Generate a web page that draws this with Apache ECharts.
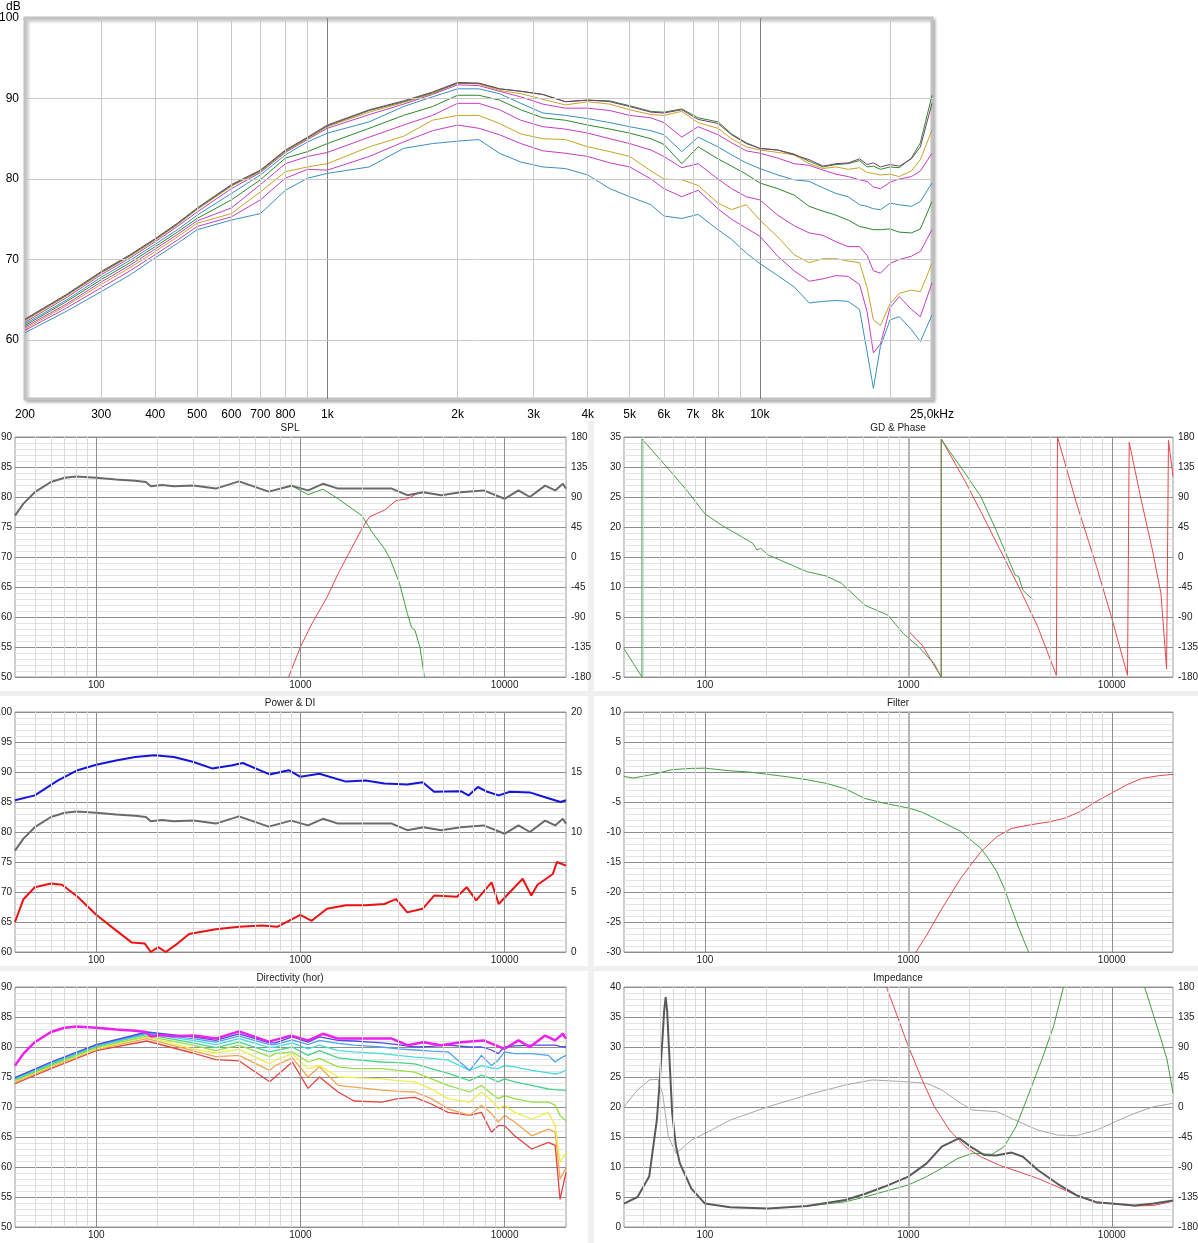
<!DOCTYPE html>
<html><head><meta charset="utf-8">
<script src="https://cdn.jsdelivr.net/npm/echarts@6/dist/echarts.min.js"></script>
<style>html,body{margin:0;padding:0;background:#fff}#c{width:1198px;height:1243px}</style>
</head><body><div id="c"></div>
<script>
// ---------- TOP CHART (off-axis responses) ----------
const TOP_FREQ = [200,250,300,350,400,450,500,600,700,800,900,1000,1250,1500,1750,2000,2240,2500,2800,3150,3550,4000,4500,5000,5600,6000,6600,7200,8000,8600,9300,10000,11000,12000,13000,14000,15000,16000,17000,17700,18300,19000,20000,21000,22400,23500,25000];
const TOP_A = [62.6,65.7,68.5,70.6,72.6,74.5,76.4,79.3,81.1,83.6,85.2,86.7,88.6,89.7,90.8,92.0,91.9,91.2,90.9,90.5,89.6,89.8,89.6,89.0,88.3,88.2,88.6,87.4,86.9,85.5,84.4,83.8,83.6,83.0,82.4,81.6,81.9,82.0,82.5,81.8,82.0,81.5,81.8,81.6,82.5,84.0,89.4];
const TOP_B = [62.5,65.6,68.4,70.5,72.5,74.4,76.3,79.2,81.0,83.5,85.1,86.6,88.5,89.6,90.7,91.9,91.9,91.2,90.9,90.5,89.6,89.8,89.7,89.1,88.4,88.3,88.7,87.6,87.1,85.6,84.5,83.8,83.6,83.1,82.2,81.5,81.8,81.9,82.3,81.5,81.6,81.2,81.5,81.4,82.6,84.5,90.4];
const TOP_C = [62.4,65.5,68.3,70.4,72.4,74.3,76.2,79.1,80.9,83.4,85.0,86.5,88.3,89.5,90.6,91.9,91.8,91.0,90.6,89.9,89.2,89.6,89.3,88.6,88.0,87.9,88.4,87.0,86.3,85.0,84.0,83.6,83.3,83.0,81.9,81.3,81.5,81.2,81.4,80.8,80.7,80.5,80.6,80.3,81.0,82.4,86.1];
const TOP_D = [62.2,65.3,68.1,70.2,72.2,74.1,75.9,78.8,80.8,83.3,84.9,86.3,88.0,89.3,90.5,91.7,91.6,90.9,90.2,89.3,88.8,88.8,88.5,87.9,87.6,87.0,85.2,86.5,85.5,84.5,83.5,83.2,82.6,81.9,81.7,81.1,80.6,80.3,79.9,79.7,79.0,78.8,79.6,80.0,80.3,81.0,83.2];
const TOP_E = [62.0,65.0,67.8,69.9,71.9,73.7,75.5,78.2,80.5,83.0,84.6,85.7,87.1,89.0,90.2,91.2,91.2,90.6,89.4,88.2,87.9,87.5,87.0,86.5,86.0,85.5,83.4,85.2,84.0,83.0,82.0,81.3,80.5,79.9,79.7,78.9,78.2,77.8,76.8,76.6,76.3,76.2,77.0,76.8,76.6,77.2,79.5];
const TOP_F = [61.8,64.8,67.5,69.6,71.6,73.4,75.1,77.4,79.9,82.6,83.4,84.4,86.3,87.9,89.0,90.4,90.4,89.8,88.6,87.6,87.3,86.7,86.2,85.7,85.0,84.3,81.9,84.0,82.5,81.6,80.6,79.5,78.8,78.0,76.6,76.0,75.5,74.9,74.1,73.9,73.7,73.7,73.8,73.4,73.3,73.8,77.2];
const TOP_G = [61.6,64.5,67.2,69.3,71.3,73.1,74.8,76.4,79.3,81.9,82.8,83.3,85.2,86.7,87.9,89.4,89.4,88.6,87.3,86.5,86.2,85.7,85.0,84.4,83.6,82.8,81.4,81.9,80.0,78.8,77.8,77.4,75.5,74.2,73.3,73.0,72.2,71.6,71.6,70.5,68.6,68.3,69.5,70.0,70.4,71.0,73.7];
const TOP_H = [61.4,64.3,66.9,69.0,71.0,72.8,74.5,75.7,78.4,80.9,81.5,81.9,84.0,85.3,87.3,87.9,87.9,86.9,85.6,85.0,84.9,84.0,83.4,82.8,81.0,80.0,79.9,79.2,77.0,76.2,76.8,74.9,72.8,70.6,69.6,70.1,70.1,69.8,69.6,66.5,62.5,61.8,64.5,65.8,66.2,66.0,69.5];
const TOP_I = [61.2,64.0,66.5,68.6,70.6,72.4,74.1,75.3,77.4,80.1,81.2,81.1,82.8,84.6,86.0,86.7,86.3,85.5,84.4,83.5,83.2,82.8,82.0,81.5,80.0,78.8,77.8,78.6,76.3,75.0,73.9,72.9,70.4,68.6,67.3,67.6,68.0,67.9,66.9,63.5,58.4,59.5,64.0,65.4,63.8,62.9,67.1];
const TOP_J = [60.9,63.6,66.0,68.1,70.2,72.0,73.7,74.9,75.7,78.6,80.1,80.7,81.5,83.8,84.4,84.7,84.9,83.2,82.1,81.5,81.3,80.5,78.8,77.8,76.8,75.4,75.1,75.6,73.7,72.5,70.8,69.5,68.0,66.6,64.6,64.8,64.9,64.8,63.8,58.5,54.0,59.2,62.5,62.9,61.3,59.8,63.1];
const TOP_TICK_VALUES = [200,300,400,500,600,700,800,1000,2000,3000,4000,5000,6000,7000,8000,10000,25000];
const TOP_TICK_LABELS = ['200','300','400','500','600','700','800','1k','2k','3k','4k','5k','6k','7k','8k','10k','25,0kHz'];
const TOP_MINOR_X = [300,400,500,600,700,800,900,2000,3000,4000,5000,6000,7000,8000,9000,20000];
const TOP_MAJOR_X = [1000,10000];
const TOP_Y_TICKS = [60,70,80,90,100];

// ---------- on-axis SPL (shared by SPL, Power & DI, Directivity) ----------
const ON_FREQ = [40,44,50,60,70,80,100,125,155,175,185,210,240,300,385,500,700,900,1090,1290,1530,2100,2800,3340,4000,4900,6100,7900,10000,11700,13300,15800,17700,19300,20000];
const ON_SPL  = [76.9,78.9,80.8,82.5,83.2,83.4,83.2,82.9,82.7,82.5,81.8,82.0,81.8,81.9,81.4,82.6,80.9,81.9,81.1,82.2,81.4,81.4,81.4,80.3,80.8,80.3,80.8,81.1,79.7,81.1,80.0,81.9,81.1,82.2,81.4];

// SPL panel: woofer and tweeter
const WOOF_FREQ = [700,913,1090,1290,1530,2000,2270,2580,2750,3060,3340,3500,3640,3850,4050];
const WOOF_SPL  = [80.9,81.8,80.4,81.3,79.7,76.9,73.9,71.4,69.7,65.6,60.6,58.3,57.8,55.0,50.0];
const TW_FREQ = [875,1000,1140,1350,1530,1740,2000,2180,2580,2940,3340,3800,4150];
const TW_SPL  = [50.0,55.0,58.9,63.3,67.2,70.8,74.7,76.7,77.8,79.4,79.7,80.7,80.8];

// GD & Phase panel
const WOOF_PH_FREQ = [40,49,49.01,55.5,69,82.2,100,121.7,151,172,180,188,205,255,318,396,470,610,794,945,1125,1340,1450,1451,1595,1900,2270,2720,3070,3350,3490,3650,4080];
const WOOF_PH = [-137.4,-180,177,158.4,125.8,98.3,64.7,47.1,30.6,20.6,10.5,13,3,-9.5,-22.1,-28.6,-39.6,-72.2,-87.3,-114.8,-134.9,-160,-180,177,158.4,125.8,90.8,38.1,0,-27.1,-29.6,-49.6,-63.7];
const TW_PH_FREQ = [1000,1170,1450,1451,1900,2270,2800,3490,4330,5340,5410,6670,8420,9960,11950,12180,13950,15840,17450,18600,19000,20000];
const TW_PH = [-110.8,-132.4,-180,177,113.8,68.2,13,-44.6,-104.8,-177.5,180,83.2,-14.5,-89.8,-177.5,172,85.7,10.5,-54.7,-167.5,175,120.8];

// Power & DI panel
const PWR_FREQ = [40,50,65,81,100,125,155,193,240,297,369,458,522,707,876,1000,1240,1670,2085,2580,3340,3970,4520,6110,6660,7400,8240,9360,10640,13300,15800,18800,20000];
const PWR = [85.3,86.1,88.6,90.3,91.2,91.9,92.5,92.8,92.5,91.7,90.6,91.1,91.5,89.6,90.3,89.2,89.7,88.4,88.6,88.1,87.9,88.3,86.7,86.8,86.1,87.5,86.7,86.1,86.7,86.6,85.8,85.0,85.3];
const DI_FREQ = [40,44,50,60,68,81,100,125,149,173,185,201,219,250,285,385,500,649,770,1000,1135,1350,1670,2085,2580,2940,3340,3970,4520,5850,6520,7260,8640,9360,10640,12270,13520,14510,17240,18060,20000];
const DI = [2.5,4.4,5.4,5.7,5.6,4.6,3.1,1.8,0.8,0.7,0.0,0.4,0.0,0.7,1.5,1.9,2.1,2.2,2.1,3.1,2.6,3.6,3.9,3.9,4.0,4.4,3.3,3.6,4.7,4.6,5.4,4.3,5.8,4.0,5.0,6.1,4.7,5.6,6.5,7.5,7.2];

// Filter panel
const FIL_W_FREQ = [40,44.6,55.5,69,86,100,133,165,205,255,318,396,490,610,760,1000,1170,1460,1810,2070,2270,2470,2720,2960,3220,3500,3900];
const FIL_W = [-0.75,-1.0,-0.4,0.4,0.6,0.64,0.2,0.0,-0.4,-0.8,-1.3,-1.9,-2.8,-4.4,-5.2,-6.0,-6.7,-8.3,-9.9,-11.6,-12.7,-14.4,-16.6,-19.4,-22.8,-26.1,-30];
const FIL_T_FREQ = [1090,1230,1460,1810,2270,2720,3220,3980,4940,5870,6990,8400,10000,11900,14000,17100,20000];
const FIL_T = [-30,-27.2,-22.8,-17.7,-13.3,-10.8,-9.4,-8.8,-8.3,-7.7,-6.6,-4.9,-3.5,-2.1,-1.1,-0.6,-0.4];

// Directivity (hor) panel
const DIR_FREQ = [40,60,100,177,297,385,500,707,753,913,1090,1240,1530,1830,2500,3000,3630,4380,5290,6750,7710,8630,9310,10000,11200,13600,16400,17700,18700,20000];
const DIR_10 = [74.9,77.5,80.4,82.5,81.7,81.1,82.2,80.7,80.7,81.7,80.8,81.7,81.1,81.0,80.7,80.4,80.0,80.1,80.3,80.0,80.0,79.5,78.9,80.0,80.2,80.3,80.3,80.3,80.1,80.0];
const DIR_20 = [74.8,77.4,80.3,82.3,81.4,80.8,81.8,80.4,80.4,81.2,80.4,81.1,80.6,80.3,80.0,79.7,79.5,79.3,79.2,76.1,78.6,76.9,77.8,79.2,78.9,78.9,78.6,77.5,78.1,78.6];
const DIR_30 = [74.7,77.3,80.2,82.2,81.1,80.4,81.4,79.9,80.0,80.7,79.7,80.3,79.4,79.2,78.9,78.6,78.3,78.1,77.8,76.1,76.9,76.5,76.4,76.9,76.7,76.1,75.7,75.5,75.7,76.1];
const DIR_40 = [74.6,77.1,80.1,82.1,80.7,79.9,80.8,79.2,79.4,80.0,78.6,79.4,78.2,77.9,77.5,77.4,77.2,76.4,75.6,74.4,75.3,74.7,74.2,74.7,74.2,73.6,73.0,72.9,72.8,72.8];
const DIR_50 = [74.4,76.9,79.9,81.8,80.3,79.4,80.3,78.4,78.9,79.2,77.5,78.1,76.7,76.4,76.4,76.1,75.8,74.7,73.6,72.5,73.6,72.2,71.4,71.9,71.4,70.8,70.8,70.3,68.6,67.7];
const DIR_60 = [74.3,76.8,79.7,81.7,79.7,79.0,79.6,77.2,77.8,78.9,76.4,76.9,75.0,74.9,74.7,74.4,74.2,73.0,71.4,70.8,72.5,71.1,69.7,70.3,69.1,68.0,69.1,66.9,60.8,62.4];
const DIR_70 = [74.1,76.6,79.6,81.4,79.4,78.4,78.6,76.1,76.9,78.2,75.0,76.7,73.6,73.3,72.8,72.6,72.5,71.4,69.7,68.6,70.3,68.9,67.5,68.6,67.5,65.2,66.3,65.8,58.0,59.9];
const DIR_80 = [73.9,76.4,79.4,81.0,79.0,77.9,77.7,74.2,75.0,77.5,73.1,75.0,72.5,71.0,70.8,71.4,71.6,70.5,69.1,68.6,69.1,65.8,66.9,66.9,65.2,63.0,64.1,63.6,54.6,59.1];

// Impedance panel
const IMP_FREQ = [40,46.6,53.2,58,60,62,63,64.1,65.2,66.5,69,72,75.3,85.8,100,133,205,318,490,610,760,1000,1230,1460,1780,2020,2360,2690,3220,3660,4330,5410,6690,8420,10000,12940,16100,20000];
const IMP_TOTAL = [3.9,5.0,8.4,17.8,24.5,32.0,36.0,38.3,36.0,30.0,19.0,13.5,10.6,6.4,3.9,3.3,3.1,3.5,4.5,5.5,6.7,8.4,10.6,13.4,14.8,13.4,12.0,11.9,12.4,11.7,9.5,7.2,5.3,4.1,3.9,3.6,3.9,4.4];
const IMP_PH_FREQ = [40,46.6,53.2,58.8,61.9,66.1,72.1,85.8,100,133,205,318,490,665,945,1230,1460,1810,2070,2720,3490,4330,5410,6690,8420,10400,12940,16100,20000];
const IMP_PH = [0.5,25.6,40.6,41.6,20.6,-44.6,-69.7,-49.6,-39.6,-19.6,0.5,18.0,33.1,40.6,38.1,35.6,25.6,5.5,-4.5,-7.0,-22.1,-34.6,-42.1,-43.1,-34.6,-22.1,-9.5,0.5,5.5];
const WOOF_IMP_FREQ = [318,490,610,760,1000,1230,1460,1740,2070,2580,2960,3380,3810,4530,5170,5790];
const WOOF_IMP = [3.5,4.2,5.0,5.9,7.0,8.4,9.8,11.4,12.3,12.1,13.4,16.7,21.2,27.9,33.4,40];
const WOOF_IMP2_FREQ = [14500,17100,18700,20000];
const WOOF_IMP2 = [40,32.3,27.9,22.3];
const TW_IMP_FREQ = [780,870,1000,1170,1340,1590,1900,2270,2800,3490,4330,5410,6690,8420,10000,12940,16100,20000];
const TW_IMP = [40,35.7,30.1,24.5,20.1,16.2,13.4,11.7,10.3,9.2,8.1,6.7,5.3,4.2,3.9,3.5,3.6,4.3];

// small-panel frequency grid
const SMALL_MINOR_X = [50,60,70,80,90,200,300,400,500,600,700,800,900,2000,3000,4000,5000,6000,7000,8000,9000];
const SMALL_MAJOR_X = [100,1000,10000];

// ---------- styles ----------
const FONT = '"Liberation Sans", Arial, sans-serif';
const TOP_COLORS = ['#7d3a6e','#2a8a2a','#c9a227','#c43cc4','#3a8fc0','#2a8a2a','#c43cc4','#c9a227','#c43cc4','#3a8fc0'];
const DIR_COLORS = ['#4c4ce6','#4fa2ee','#45dcdc','#45d48a','#96e045','#eeee45','#f2a650','#e04545'];

const zip = (f, v) => f.map((x, i) => [x, v[i]]);

const chart = echarts.init(document.getElementById('c'), null, {renderer: 'canvas'});

const smallGridBase = {show: true, backgroundColor: '#fff', borderColor: '#9a9a9a', borderWidth: 1, containLabel: false, outerBoundsMode: 'none'};
const grids = [
  {left: 25, top: 18, width: 907, height: 381, show: true, backgroundColor: '#fff', borderColor: '#c2c2c2', borderWidth: 3,
   shadowColor: 'rgba(0,0,0,0.25)', shadowBlur: 3, shadowOffsetX: 2, shadowOffsetY: 2, containLabel: false, outerBoundsMode: 'none'},
  Object.assign({left: 15, top: 437, width: 551, height: 240}, smallGridBase),
  Object.assign({left: 624, top: 437, width: 549, height: 240}, smallGridBase),
  Object.assign({left: 15, top: 712, width: 551, height: 240}, smallGridBase),
  Object.assign({left: 624, top: 712, width: 549, height: 240}, smallGridBase),
  Object.assign({left: 15, top: 987, width: 551, height: 240}, smallGridBase),
  Object.assign({left: 624, top: 987, width: 549, height: 240}, smallGridBase)
];

const xAxes = grids.map((g, i) => ({
  type: 'log', logBase: 10, gridIndex: i,
  min: i === 0 ? 200 : 40, max: i === 0 ? 25000 : 20000,
  axisLine: {show: false}, axisTick: {show: false}, axisLabel: {show: false}, splitLine: {show: false}
}));

function yLeft(grid, min, max) {
  return {type: 'value', gridIndex: grid, min: min, max: max, interval: 5,
    axisLine: {show: false}, axisTick: {show: false},
    axisLabel: {color: '#222', fontSize: 10, fontFamily: FONT, margin: 3},
    splitLine: {show: true, lineStyle: {color: '#8e8e8e', width: 1}},
    minorTick: {show: false, splitNumber: 5},
    minorSplitLine: {show: true, lineStyle: {color: '#e3e3e3', width: 1}}};
}
function yRight(grid, min, max, interval) {
  return {type: 'value', gridIndex: grid, position: 'right', min: min, max: max, interval: interval,
    axisLine: {show: false}, axisTick: {show: false},
    axisLabel: {color: '#222', fontSize: 10, fontFamily: FONT, margin: 5},
    splitLine: {show: false}};
}
const yAxes = [
  {type: 'value', gridIndex: 0, min: 52.67, max: 100, axisLine: {show: false}, axisTick: {show: false}, axisLabel: {show: false}, splitLine: {show: false}},
  yLeft(1, 50, 90), yRight(1, -180, 180, 45),
  yLeft(2, -5, 35), yRight(2, -180, 180, 45),
  yLeft(3, 60, 100), yRight(3, 0, 20, 5),
  yLeft(4, -30, 10),
  yLeft(5, 50, 90),
  yLeft(6, 0, 40), yRight(6, -180, 180, 45)
];
// y axis index of the left axis per grid
const LEFT_Y = [0, 1, 3, 5, 7, 8, 9];

function gridLines(gi, items) {
  return {type: 'line', xAxisIndex: gi, yAxisIndex: LEFT_Y[gi], data: [], z: 1, silent: true,
    markLine: {silent: true, symbol: ['none', 'none'], animation: false, precision: 6,
      label: {show: false}, emphasis: {disabled: true}, data: items}};
}

const series = [];

// top chart gridlines and tick labels
const topLineItems = [];
TOP_MINOR_X.forEach(v => topLineItems.push({xAxis: v, lineStyle: {color: '#c9c9c9', width: 1, type: 'solid'}}));
TOP_MAJOR_X.forEach(v => topLineItems.push({xAxis: v, lineStyle: {color: '#808080', width: 1, type: 'solid'}}));
TOP_TICK_VALUES.forEach((v, i) => topLineItems.push({xAxis: v, lineStyle: {color: 'rgba(255,255,255,0)', width: 1, type: 'solid'},
  label: {show: true, position: 'start', formatter: TOP_TICK_LABELS[i], color: '#000', fontSize: 12, fontFamily: FONT, distance: 10}}));
TOP_Y_TICKS.forEach(v => topLineItems.push({yAxis: v, lineStyle: {color: v === 100 ? 'rgba(255,255,255,0)' : '#c9c9c9', width: 1, type: 'solid'},
  label: {show: true, position: 'start', formatter: String(v), color: '#000', fontSize: 12, fontFamily: FONT, distance: 6}}));
series.push(gridLines(0, topLineItems));

const TOP_SERIES = [TOP_A, TOP_B, TOP_C, TOP_D, TOP_E, TOP_F, TOP_G, TOP_H, TOP_I, TOP_J];
function line(gi, yi, data, color, width, z) {
  return {type: 'line', xAxisIndex: gi, yAxisIndex: yi, data: data, showSymbol: false, symbol: 'none',
    silent: true, animation: false, z: z || 3, lineStyle: {color: color, width: width}, emphasis: {disabled: true}};
}
for (let k = TOP_SERIES.length - 1; k >= 0; k--) {
  series.push(line(0, 0, zip(TOP_FREQ, TOP_SERIES[k]), TOP_COLORS[k], 1, 3));
}

// small-panel vertical gridlines
for (let gi = 1; gi <= 6; gi++) {
  const right = gi % 2 === 0;
  const items = [];
  SMALL_MINOR_X.forEach(v => items.push({xAxis: v, lineStyle: {color: '#dadada', width: 1, type: 'solid'}}));
  SMALL_MAJOR_X.forEach(v => {
    const thick = right && v === 1000;
    items.push({xAxis: v, lineStyle: {color: thick ? '#b5b5b5' : '#8e8e8e', width: thick ? 2 : 1, type: 'solid'},
      label: {show: true, position: 'start', formatter: String(v), color: '#222', fontSize: 10, fontFamily: FONT, distance: 3}});
  });
  series.push(gridLines(gi, items));
}

// SPL
series.push(line(1, 1, zip(TW_FREQ, TW_SPL), '#e5484d', 1));
series.push(line(1, 1, zip(WOOF_FREQ, WOOF_SPL), '#3f9f3f', 1));
series.push(line(1, 1, zip(ON_FREQ, ON_SPL), '#6a6a6a', 2));
// GD & Phase
series.push(line(2, 4, zip(TW_PH_FREQ, TW_PH), '#e5484d', 1));
series.push(line(2, 4, zip(WOOF_PH_FREQ, WOOF_PH), '#4a9e4a', 1));
// Power & DI
series.push(line(3, 6, zip(DI_FREQ, DI), '#ee1111', 2));
series.push(line(3, 5, zip(ON_FREQ, ON_SPL), '#6a6a6a', 2));
series.push(line(3, 5, zip(PWR_FREQ, PWR), '#1414dc', 2));
// Filter
series.push(line(4, 7, zip(FIL_T_FREQ, FIL_T), '#e5484d', 1));
series.push(line(4, 7, zip(FIL_W_FREQ, FIL_W), '#3f9f3f', 1));
// Directivity
const DIR_SERIES = [DIR_10, DIR_20, DIR_30, DIR_40, DIR_50, DIR_60, DIR_70, DIR_80];
for (let k = DIR_SERIES.length - 1; k >= 0; k--) {
  series.push(line(5, 8, zip(DIR_FREQ, DIR_SERIES[k]), DIR_COLORS[k], 1.3));
}
series.push(line(5, 8, zip(ON_FREQ, ON_SPL), '#f01ef0', 2.5, 4));
// Impedance
series.push(line(6, 10, zip(IMP_PH_FREQ, IMP_PH), '#a8a8a8', 1));
series.push(line(6, 9, zip(TW_IMP_FREQ, TW_IMP), '#e5484d', 1));
series.push(line(6, 9, zip(WOOF_IMP_FREQ, WOOF_IMP), '#3f9f3f', 1));
series.push(line(6, 9, zip(WOOF_IMP2_FREQ, WOOF_IMP2), '#3f9f3f', 1));
series.push(line(6, 9, zip(IMP_FREQ, IMP_TOTAL), '#5a5a5a', 2, 4));

const titleStyle = {color: '#222', fontSize: 10, fontWeight: 'normal', fontFamily: FONT};
const titles = [
  ['SPL', 290, 423], ['GD & Phase', 898, 423], ['Power & DI', 290, 698],
  ['Filter', 898, 698], ['Directivity (hor)', 290, 973], ['Impedance', 898, 973]
].map(t => ({text: t[0], left: t[1], top: t[2], textAlign: 'center', padding: 0, textStyle: titleStyle}));

chart.setOption({
  animation: false,
  backgroundColor: '#ffffff',
  title: titles,
  graphic: [
    {type: 'rect', shape: {x: 588, y: 421, width: 6, height: 822}, style: {fill: '#f0f0f0'}, silent: true, z: -10},
    {type: 'rect', shape: {x: 0, y: 691, width: 1198, height: 5}, style: {fill: '#f0f0f0'}, silent: true, z: -10},
    {type: 'rect', shape: {x: 0, y: 966, width: 1198, height: 5}, style: {fill: '#f0f0f0'}, silent: true, z: -10},
    {type: 'text', left: 6, top: 1, style: {text: 'dB', fill: '#000', font: '12px ' + FONT}, silent: true}
  ],
  grid: grids,
  xAxis: xAxes,
  yAxis: yAxes,
  series: series
});
</script>
</body></html>
